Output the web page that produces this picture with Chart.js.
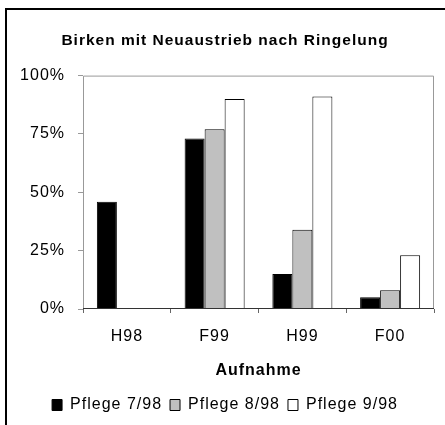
<!DOCTYPE html>
<html>
<head>
<meta charset="utf-8">
<script src="https://cdn.jsdelivr.net/npm/chart.js@4.4.0/dist/chart.umd.min.js"></script>
<style>
  html, body { margin: 0; padding: 0; background: #fff; overflow: hidden; }
  #wrap { position: relative; width: 445px; height: 425px; }
  #frame { position: absolute; left: 5px; top: 8px; width: 470px; height: 450px; border: 2px solid #000; pointer-events: none; }
  canvas { position: absolute; left: 0; top: 0; }
</style>
</head>
<body>
<div id="wrap">
  <canvas id="ringelChart" width="445" height="425"></canvas>
  <div id="frame"></div>
</div>
<script>
const aufnahmen = ['H98', 'F99', 'H99', 'F00'];
const pflege798 = [46, 73, 15, 5];
const pflege898 = [0, 77, 34, 8];
const pflege998 = [0, 90, 91, 23];
const yTicks = [0, 25, 50, 75, 100];

const fontFamily = "'Liberation Sans', Arial, sans-serif";

// die Schrift im Original ist breit gezogen -> etwas Zeichenabstand
const spacing = {
    id: 'spacing',
    beforeUpdate(chart) { chart.ctx.letterSpacing = '1px'; },
    beforeDraw(chart) { chart.ctx.letterSpacing = '1px'; }
};

// grauer Rahmen um die Zeichenfläche (wie im Excel-Diagramm)
const plotFrame = {
    id: 'plotFrame',
    afterDatasetsDraw(chart) {
        const a = chart.chartArea;
        const ctx = chart.ctx;
        ctx.save();
        ctx.strokeStyle = '#999';
        ctx.lineWidth = 1;
        ctx.beginPath();
        ctx.moveTo(a.left + 0.5, a.bottom);
        ctx.lineTo(a.left + 0.5, a.top + 0.5);
        ctx.lineTo(a.right - 0.5, a.top + 0.5);
        ctx.lineTo(a.right - 0.5, a.bottom);
        ctx.stroke();
        ctx.strokeStyle = '#333';
        ctx.beginPath();
        ctx.moveTo(a.left, a.bottom - 0.5);
        ctx.lineTo(a.right, a.bottom - 0.5);
        ctx.stroke();
        ctx.restore();
    }
};

const ctx = document.getElementById('ringelChart').getContext('2d');
new Chart(ctx, {
    type: 'bar',
    data: {
        labels: aufnahmen,
        datasets: [
            {
                label: 'Pflege 7/98',
                data: pflege798,
                backgroundColor: '#000000',
                borderColor: '#000000',
                borderWidth: 1
            },
            {
                label: 'Pflege 8/98',
                data: pflege898,
                backgroundColor: '#c0c0c0',
                borderColor: '#000000',
                borderWidth: 1
            },
            {
                label: 'Pflege 9/98',
                data: pflege998,
                backgroundColor: '#ffffff',
                borderColor: '#000000',
                borderWidth: 1
            }
        ]
    },
    options: {
        responsive: false,
        animation: false,
        layout: {
            padding: { left: 16, right: 11, top: 0, bottom: 2 }
        },
        datasets: {
            bar: {
                categoryPercentage: 0.684,
                barPercentage: 1.0
            }
        },
        scales: {
            x: {
                offset: true,
                afterFit: function(scale) { scale.height = 80; },
                grid: {
                    offset: true,
                    drawOnChartArea: false,
                    drawTicks: true,
                    tickLength: 4,
                    color: '#666'
                },
                border: { display: false },
                ticks: {
                    color: '#000',
                    padding: 14,
                    font: { size: 16, family: fontFamily }
                },
                title: {
                    display: true,
                    text: 'Aufnahme',
                    color: '#000',
                    font: { size: 16, weight: 'bold', family: fontFamily },
                    padding: { top: 4, bottom: 9 }
                }
            },
            y: {
                min: 0,
                max: 100,
                afterFit: function(scale) { scale.width = 67; },
                afterBuildTicks: function(scale) {
                    scale.ticks = yTicks.map(v => ({ value: v }));
                },
                grid: {
                    drawOnChartArea: false,
                    drawTicks: true,
                    tickLength: 5,
                    color: '#999'
                },
                border: { display: false },
                ticks: {
                    color: '#000',
                    padding: 13,
                    font: { size: 16, family: fontFamily },
                    callback: function(value) { return value + '%'; }
                }
            }
        },
        plugins: {
            title: {
                display: true,
                text: 'Birken mit Neuaustrieb nach Ringelung',
                color: '#000',
                font: { size: 15.5, weight: 'bold', family: fontFamily },
                padding: { top: 31, bottom: 26 }
            },
            legend: {
                display: true,
                position: 'bottom',
                labels: {
                    color: '#000',
                    boxWidth: 10,
                    boxHeight: 11,
                    padding: 8,
                    font: { size: 16, family: fontFamily }
                }
            },
            tooltip: { enabled: false }
        }
    },
    plugins: [spacing, plotFrame]
});
</script>
</body>
</html>
